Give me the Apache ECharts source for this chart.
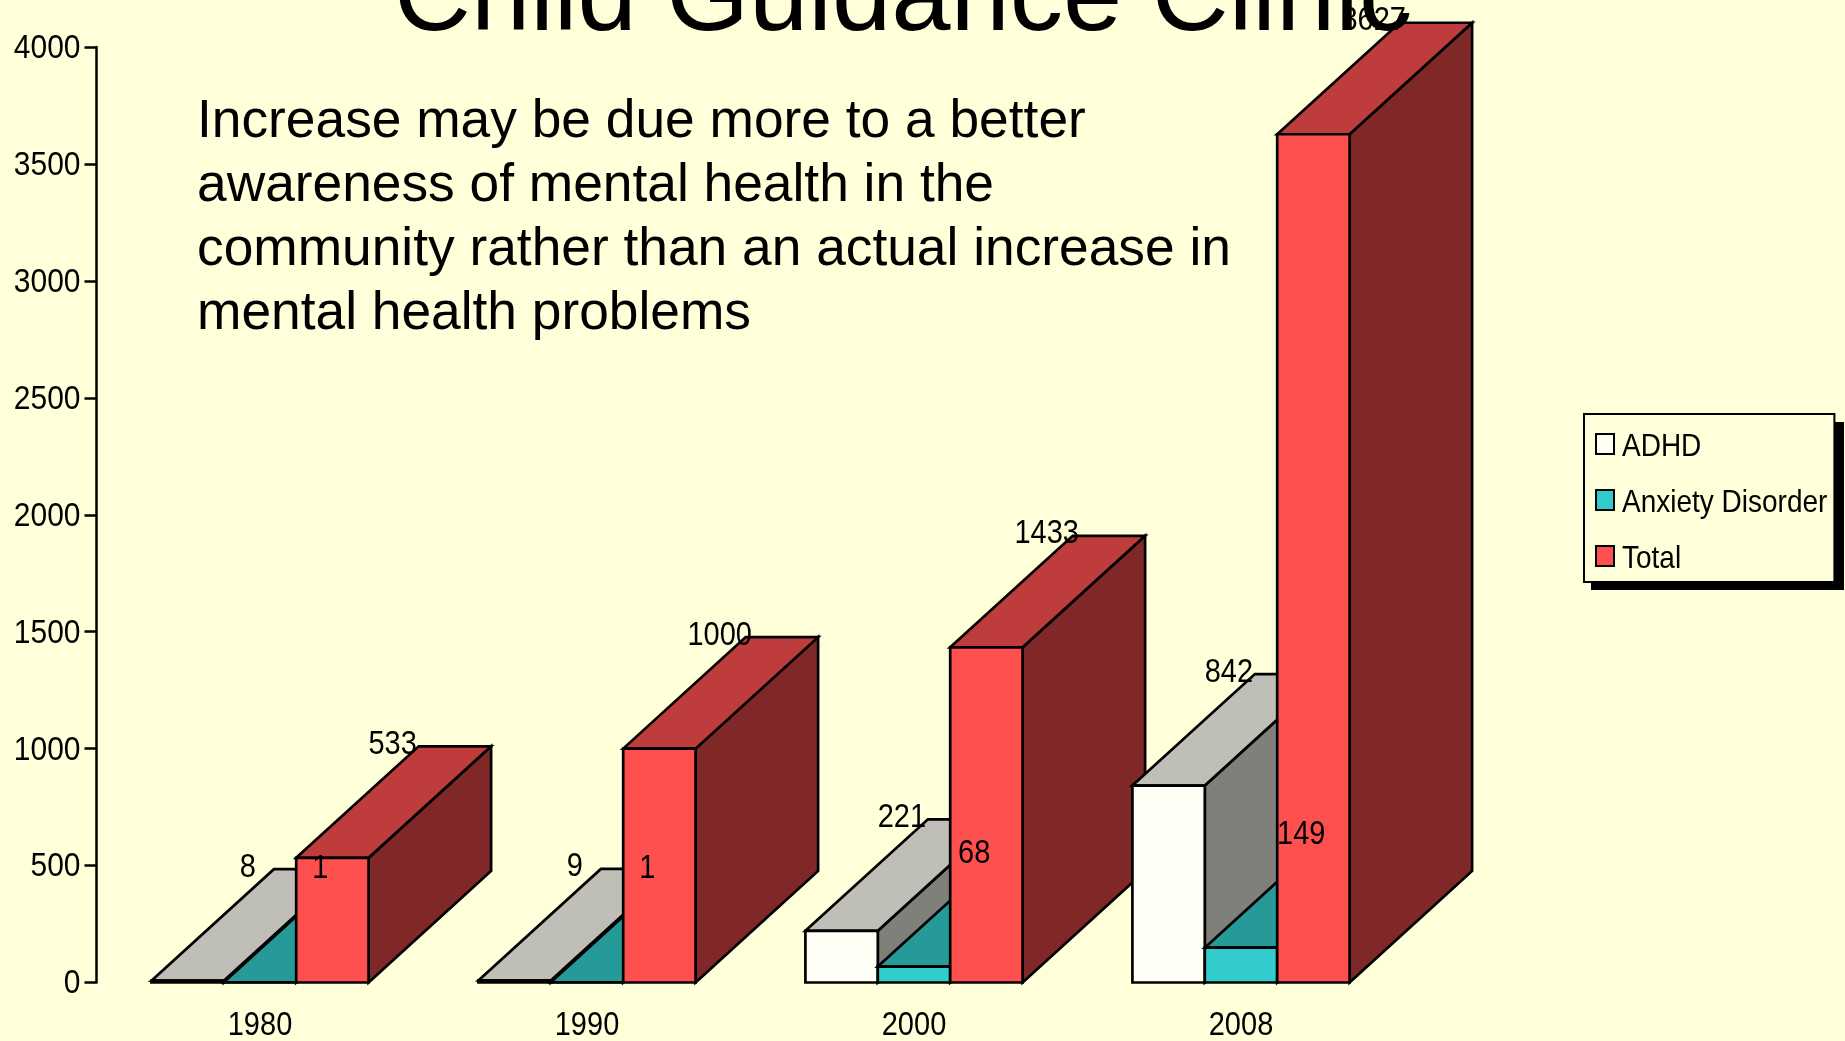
<!DOCTYPE html>
<html>
<head>
<meta charset="utf-8">
<style>html,body{margin:0;padding:0;background:#FFFFD9;overflow:hidden}#c{width:1845px;height:1041px}</style>
<script src="https://cdn.jsdelivr.net/npm/echarts@6/dist/echarts.min.js"></script>
</head>
<body>
<div id="c"></div>
<script>
const years = ['1980', '1990', '2000', '2008'];
const adhd = [8, 9, 221, 842];
const anxiety = [1, 1, 68, 149];
const total = [533, 1000, 1433, 3627];
const titleText = 'Child Guidance Clinic';
const noteText = 'Increase may be due more to a better\nawareness of mental health in the\ncommunity rather than an actual increase in\nmental health problems';
const yTicks = { min: 0, max: 4000, interval: 500 };

const DX = 122.5, DY = 111.5, BAR = 0.2214;
const SANS = '"Liberation Sans",Arial,sans-serif';
const AXIS_SIZE = 30, LABEL_SIZE = 29, LEGEND_SIZE = 28;
const TALL = { 30: 1.08, 29: 1.12, 28: 1.15 };
const NUDGE = { 30: 2, 29: 0, 28: 2 };
function shade(hex, f) {
  const n = parseInt(hex.slice(1), 16);
  const c = [n >> 16 & 255, n >> 8 & 255, n & 255].map(v => Math.round(v * f));
  return 'rgb(' + c.join(',') + ')';
}
function barSeries(name, values, color, slot) {
  return {
    type: 'custom', name: name, itemStyle: { color: color, borderColor: '#000', borderWidth: 2 },
    encode: { x: 0, y: 1 },
    data: values.map((v, i) => [years[i], v]),
    renderItem: function (params, api) {
      const i = params.dataIndex;
      const v = api.value(1);
      const p = api.coord([i, v]);
      const base = api.coord([i, 0])[1];
      const w = api.size([1, 0])[0] * BAR;
      const x0 = p[0] + (slot - 1.5) * w, x1 = x0 + w, y = p[1];
      const z = i * 10 + slot;
      const line = { stroke: '#000', lineWidth: 2.7, lineJoin: 'miter' };
      return {
        type: 'group', children: [
          { type: 'polygon', z2: z, shape: { points: [[x1, base], [x1 + DX, base - DY], [x1 + DX, y - DY], [x1, y]] }, style: Object.assign({ fill: shade(color, 0.5) }, line) },
          { type: 'polygon', z2: z, shape: { points: [[x0, y], [x0 + DX, y - DY], [x1 + DX, y - DY], [x1, y]] }, style: Object.assign({ fill: shade(color, 0.75) }, line) },
          { type: 'rect', z2: z, shape: { x: x0, y: y, width: w, height: base - y }, style: Object.assign({ fill: color }, line) },
          { type: 'text', z2: 1000, x: (x0 + x1) / 2 + DX / 2 - 1, y: y - DY - 1.5, scaleY: TALL[LABEL_SIZE], style: { text: String(v), fill: '#000', font: LABEL_SIZE + 'px ' + SANS, textAlign: 'center', textVerticalAlign: 'middle' } }
        ]
      };
    }
  };
}
const chart = echarts.init(document.getElementById('c'), null, { renderer: 'canvas' });
chart.setOption({
  animation: false,
  backgroundColor: '#FFFFD9',
  title: {
    text: titleText, left: 394, top: -52, padding: 0,
    textStyle: { fontFamily: SANS, fontSize: 106.5, fontWeight: 'normal', color: '#000', lineHeight: 106 }
  },
  graphic: [
    {
      type: 'text', left: 197, top: 90, z: 5,
      style: { text: noteText, font: '53.3px ' + SANS, lineHeight: 64, fill: '#000' }
    },
    {
      type: 'rect', left: 1591, top: 422, z: 3,
      shape: { width: 253, height: 168 }, style: { fill: '#000' }
    }
  ],
  legend: {
    orient: 'vertical', left: 1584, top: 414, icon: 'rect',
    padding: [16, 7, 12, 11], itemWidth: 18, itemHeight: 20, itemGap: 28,
    backgroundColor: '#FFFFD9', borderColor: '#000', borderWidth: 2,
    itemStyle: { borderColor: '#000', borderWidth: 2 },
    textStyle: { fontFamily: SANS, fontSize: LEGEND_SIZE, color: '#000', padding: [0, 0, 0, 3] },
    selectedMode: false,
    data: ['ADHD', 'Anxiety Disorder', 'Total']
  },
  grid: { left: 96.5, top: 47, width: 1308, height: 935.5, outerBoundsMode: 'none' },
  xAxis: {
    type: 'category', data: years,
    axisLine: { show: false }, axisTick: { show: false },
    axisLabel: { margin: 27, color: '#000', fontFamily: SANS, fontSize: LABEL_SIZE }
  },
  yAxis: {
    type: 'value', min: yTicks.min, max: yTicks.max, interval: yTicks.interval,
    splitLine: { show: false },
    axisLine: { show: true, lineStyle: { color: '#000', width: 2.5 } },
    axisTick: { show: true, length: 12, lineStyle: { color: '#000', width: 2.5 } },
    axisLabel: { margin: 16, color: '#000', fontFamily: SANS, fontSize: AXIS_SIZE, formatter: v => String(v) }
  },
  series: [
    barSeries('ADHD', adhd, '#FFFFF5', 0),
    barSeries('Anxiety Disorder', anxiety, '#33CCCC', 1),
    barSeries('Total', total, '#FF5050', 2)
  ]
});
// The reference type is taller than it is wide: stretch axis and legend labels vertically about their anchors.
chart.getZr().storage.traverse(function (el) {
  if (el.type === 'text' && el.style && TALL[el.style.fontSize] && el.scaleY === 1) {
    el.scaleY = TALL[el.style.fontSize];
    el.y += NUDGE[el.style.fontSize];
    el.markRedraw();
  }
});
</script>
</body>
</html>
